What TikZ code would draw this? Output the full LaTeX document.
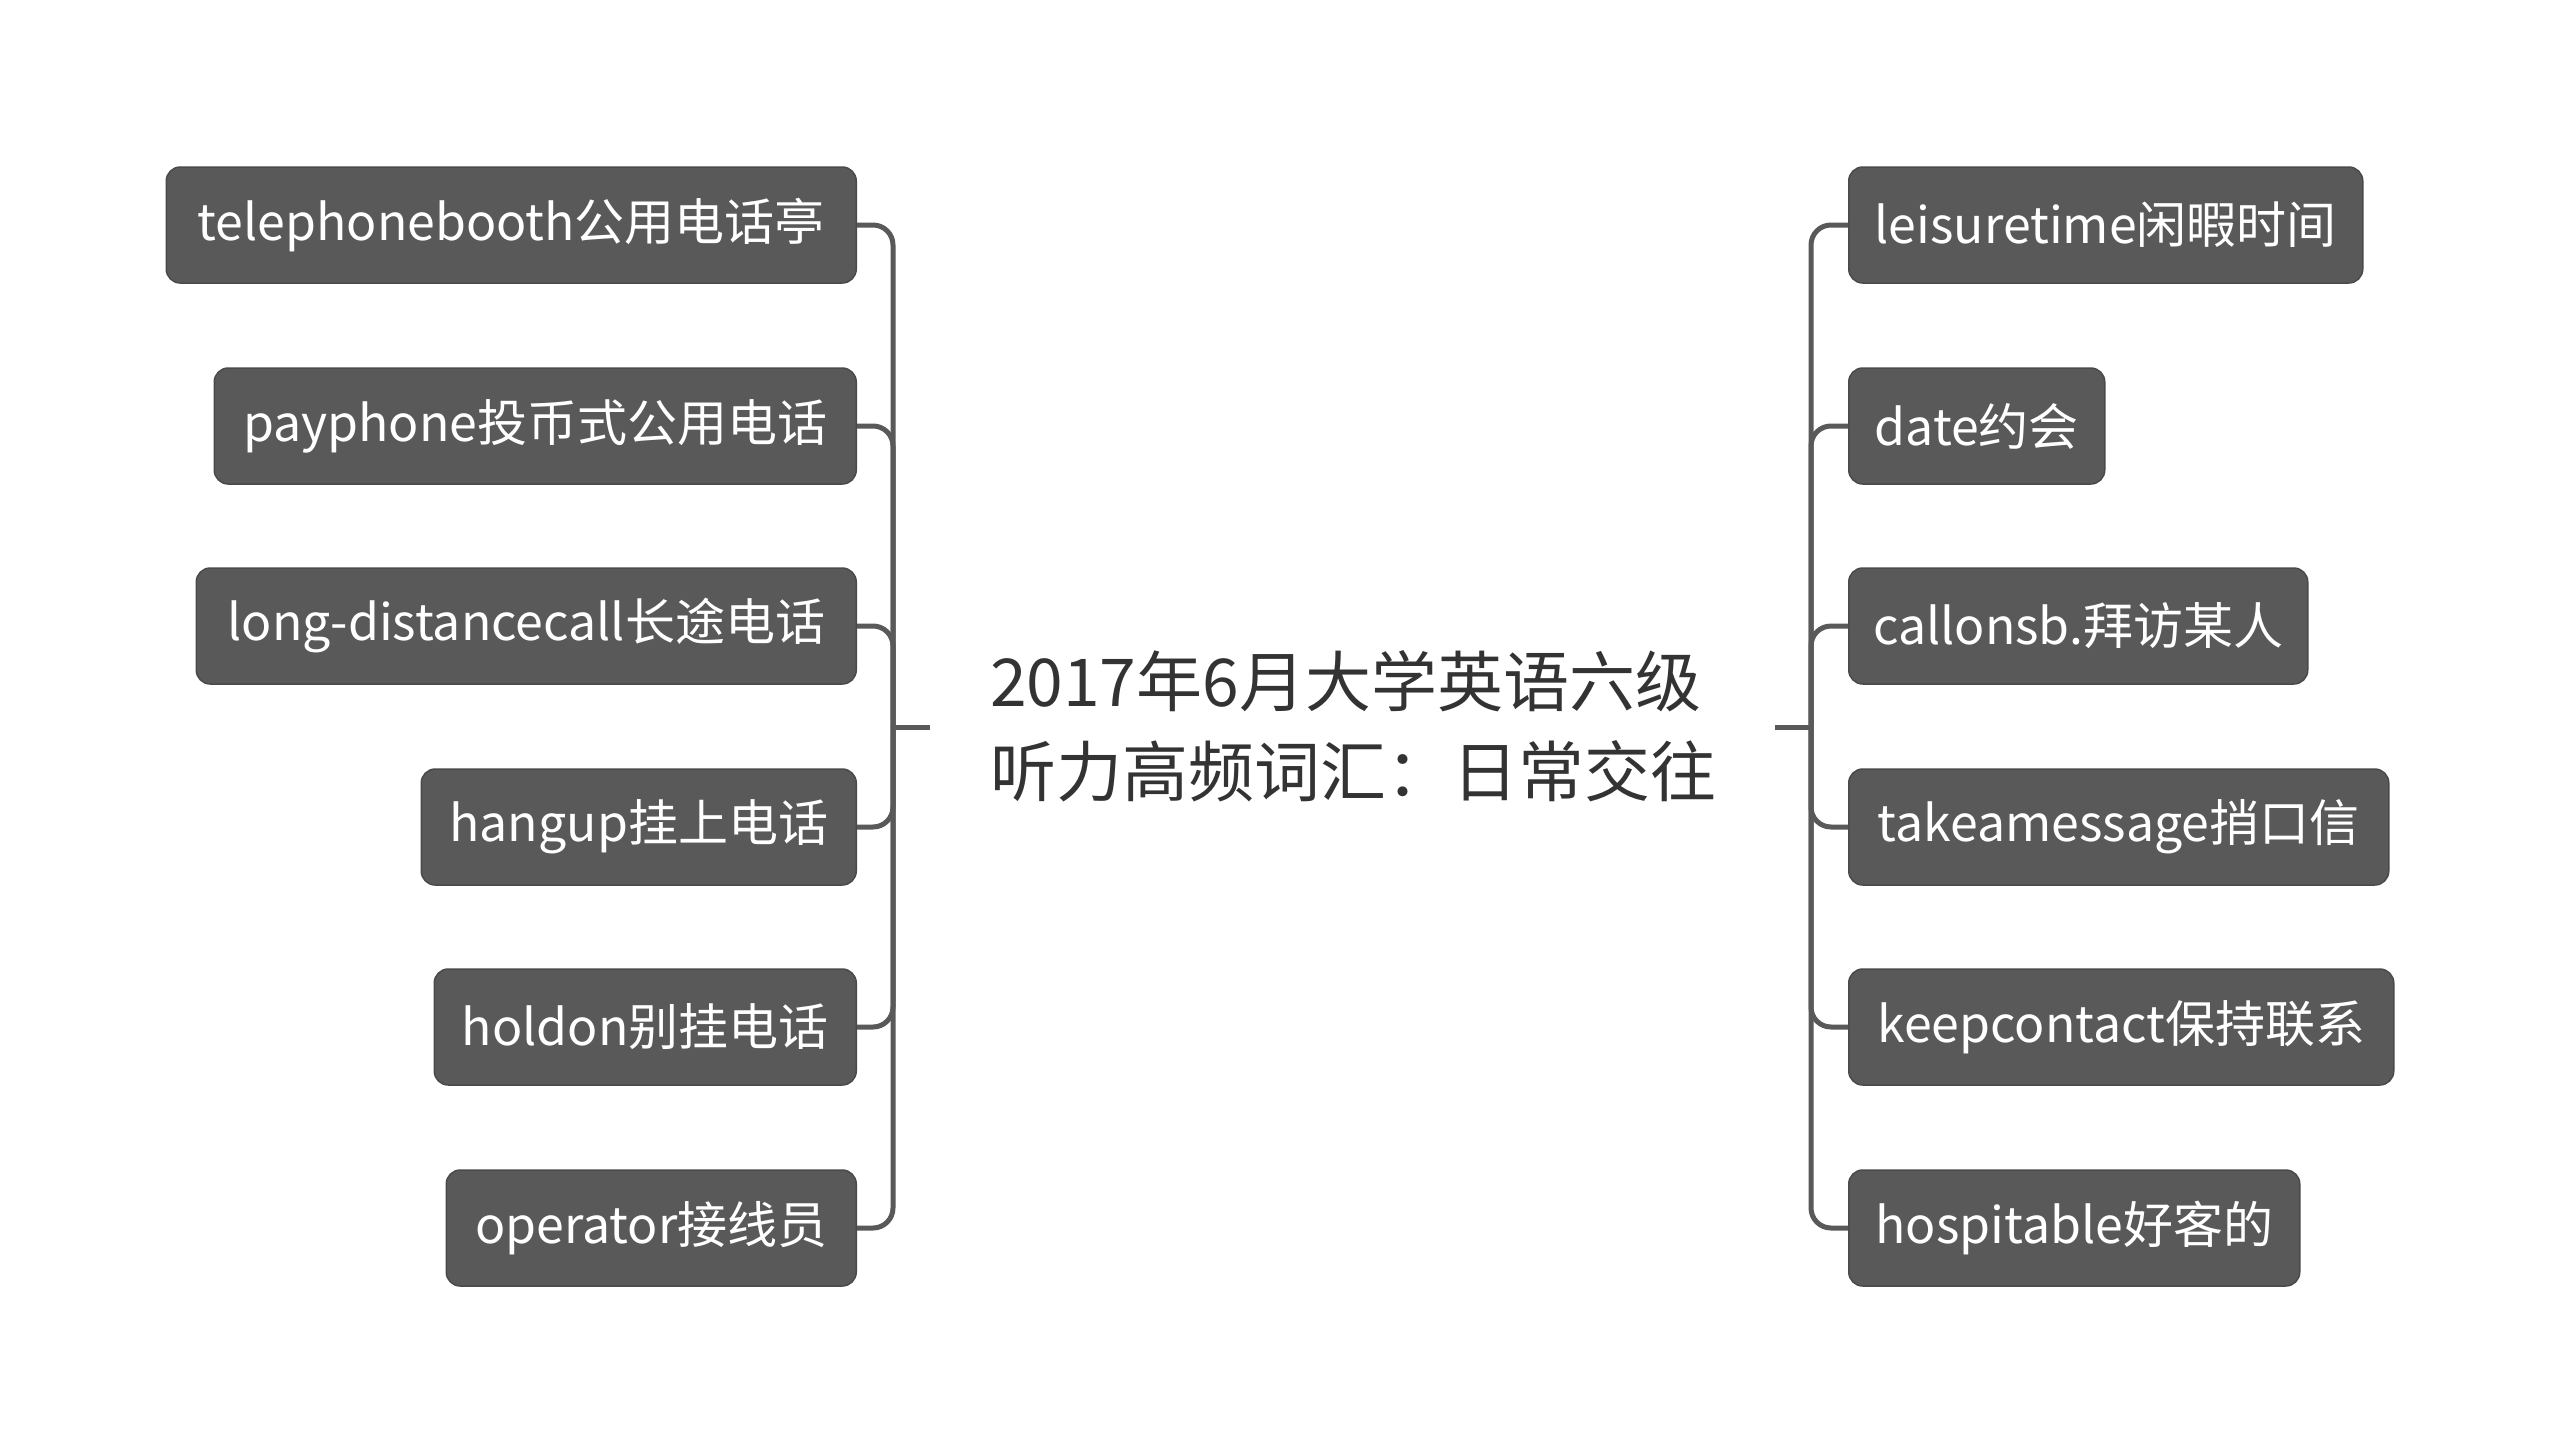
\documentclass[tikz,border=0pt]{standalone}
\usepackage{fontspec}
\newfontfamily\cjk{Noto Sans CJK SC}
\definecolor{boxfill}{RGB}{89,89,89}
\definecolor{boxedge}{RGB}{74,74,74}
\definecolor{linec}{RGB}{89,89,89}
\definecolor{titlec}{RGB}{51,51,51}
\tikzset{
  leaf/.style={fill=boxfill, draw=boxedge, line width=1.5pt, rounded corners=14pt,
    minimum height=116pt, inner sep=0pt, text=white,
    font=\cjk\fontsize{50}{60}\selectfont, align=center},
  conn/.style={draw=linec, line width=5pt, rounded corners=20pt},
  rootnode/.style={font=\cjk\fontsize{66}{90}\selectfont, text=titlec, align=left, inner sep=0pt},
}
\begin{document}
\begin{tikzpicture}[x=1pt,y=-1pt]
\useasboundingbox (0,0) rectangle (2560,1454);
\fill[white] (0,0) rectangle (2560,1454);

\node[rootnode] (root) at (1353,726) {2017年6月大学英语六级\\听力高频词汇：日常交往};

% left leaves
\node[leaf, anchor=east, minimum width=690pt] (l1) at (857,225) {telephonebooth公用电话亭};
\node[leaf, anchor=east, minimum width=642pt] (l2) at (857,426) {payphone投币式公用电话};
\node[leaf, anchor=east, minimum width=660pt] (l3) at (857,626) {long-distancecall长途电话};
\node[leaf, anchor=east, minimum width=435pt] (l4) at (857,827) {hangup挂上电话};
\node[leaf, anchor=east, minimum width=422pt] (l5) at (857,1027) {holdon别挂电话};
\node[leaf, anchor=east, minimum width=410pt] (l6) at (857,1228) {operator接线员};

% right leaves
\node[leaf, anchor=west, minimum width=514pt] (r1) at (1848,225) {leisuretime闲暇时间};
\node[leaf, anchor=west, minimum width=256pt] (r2) at (1848,426) {date约会};
\node[leaf, anchor=west, minimum width=459pt] (r3) at (1848,626) {callonsb.拜访某人};
\node[leaf, anchor=west, minimum width=540pt] (r4) at (1848,827) {takeamessage捎口信};
\node[leaf, anchor=west, minimum width=545pt] (r5) at (1848,1027) {keepcontact保持联系};
\node[leaf, anchor=west, minimum width=451pt] (r6) at (1848,1228) {hospitable好客的};

% connectors
\coordinate (lj) at (893,727);
\coordinate (ls) at (930,727);
\coordinate (rj) at (1811,727);
\coordinate (rs) at (1775,727);
\draw[conn] (ls) -- (lj);
\draw[conn] (rs) -- (rj);
\foreach \i in {1,...,6}{
  \draw[conn] (lj) -- (lj |- l\i.east) -- (l\i.east);
  \draw[conn] (rj) -- (rj |- r\i.west) -- (r\i.west);
}
\end{tikzpicture}
\end{document}
